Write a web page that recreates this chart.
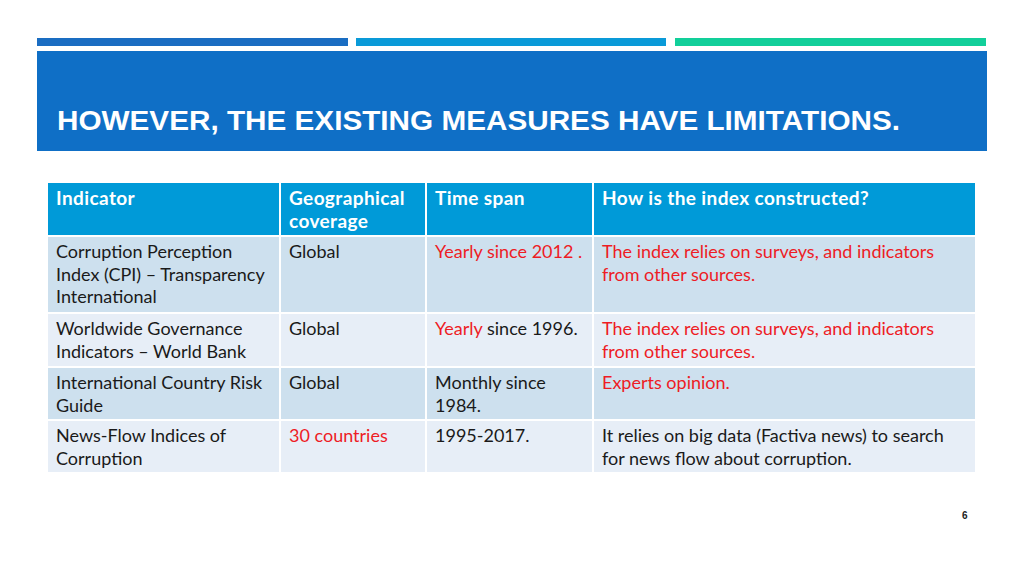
<!DOCTYPE html>
<html>
<head>
<meta charset="utf-8">
<script src="https://cdn.jsdelivr.net/npm/chart.js@4"></script>
<style>
  html, body { margin: 0; padding: 0; background: #fff; }
  body { width: 1024px; height: 576px; position: relative; overflow: hidden; }
  .stripe { position: absolute; top: 38px; height: 8px; }
  .band { position: absolute; left: 37px; top: 51px; width: 950px; height: 100px; background: #0f6fc6; }
  h1.title { position: absolute; left: 57px; top: 106px; margin: 0; color: #fff;
    font: bold 27px "Liberation Sans", Arial, sans-serif; white-space: nowrap; transform-origin: 0 0; }
  table { position: absolute; left: 48px; top: 183px; border-collapse: collapse; table-layout: fixed;
    font-family: Lato, "Open Sans", sans-serif; font-size: 18px; line-height: 22.5px; }
  td, th { border: 2px solid #fff; padding: 3px 8px 2px 8px; vertical-align: top; text-align: left;
    white-space: pre; color: #1a1a1a; overflow: hidden; }
  tr td:first-child, tr th:first-child { border-left: none; }
  tr td:last-child, tr th:last-child { border-right: none; }
  thead tr th { border-top: none; }
  th { background: #009ad8; color: #fff; font-weight: bold; font-size: 19px; letter-spacing: 0.4px; padding-top: 4px; }
  tr.dark td { background: #cde0ee; }
  tr.light td { background: #e7eef7; }
  .red { color: #ee1c25; }
  .page { position: absolute; left: 962px; top: 510px; font: bold 10px "Liberation Sans", Arial, sans-serif; color: #222; }
</style>
</head>
<body>
<div class="stripe" style="left:37px;width:311px;background:#1a6dc2"></div>
<div class="stripe" style="left:356px;width:310px;background:#0a9ad8"></div>
<div class="stripe" style="left:675px;width:311px;background:#12cf9a"></div>
<div class="band"></div>
<h1 class="title" id="title">HOWEVER, THE EXISTING MEASURES HAVE LIMITATIONS.</h1>
<table id="tbl"></table>
<div class="page">6</div>
<script>
var headers = ['Indicator', 'Geographical\ncoverage', 'Time span', 'How is the index constructed?'];
var indicators = [
  'Corruption Perception\nIndex (CPI) \u2013 Transparency\nInternational',
  'Worldwide Governance\nIndicators \u2013 World Bank',
  'International Country Risk\nGuide',
  'News-Flow Indices of\nCorruption'
];
var coverage = ['Global', 'Global', 'Global', '30 countries'];
var timeSpan = ['Yearly since 2012 .', 'Yearly since 1996.', 'Monthly since\n1984.', '1995-2017.'];
var construction = [
  'The index relies on surveys, and indicators\nfrom other sources.',
  'The index relies on surveys, and indicators\nfrom other sources.',
  'Experts opinion.',
  'It relies on big data (Factiva news) to search\nfor news flow about corruption.'
];
// part of each cell (from its start) that is shown in red
var indicatorsRed = ['', '', '', ''];
var coverageRed = ['', '', '', '30 countries'];
var timeSpanRed = ['Yearly since 2012 .', 'Yearly', '', ''];
var constructionRed = [construction[0], construction[1], construction[2], ''];

var colWidths = [232, 146, 167, 382];
var headerHeight = 53;
var rowHeights = [77, 54, 53, 53];

function esc(s) {
  return s.replace(/&/g, '&amp;').replace(/</g, '&lt;').replace(/>/g, '&gt;');
}
function cell(text, red) {
  if (!red) return esc(text);
  return '<span class="red">' + esc(red) + '</span>' + esc(text.slice(red.length));
}

var tbl = document.getElementById('tbl');
var html = '<colgroup>';
colWidths.forEach(function(w) { html += '<col style="width:' + w + 'px">'; });
html += '</colgroup><thead><tr style="height:' + headerHeight + 'px">';
headers.forEach(function(h) { html += '<th>' + esc(h) + '</th>'; });
html += '</tr></thead><tbody>';
indicators.forEach(function(name, i) {
  html += '<tr class="' + (i % 2 === 0 ? 'dark' : 'light') + '" style="height:' + rowHeights[i] + 'px">';
  html += '<td>' + cell(name, indicatorsRed[i]) + '</td>';
  html += '<td>' + cell(coverage[i], coverageRed[i]) + '</td>';
  html += '<td>' + cell(timeSpan[i], timeSpanRed[i]) + '</td>';
  html += '<td>' + cell(construction[i], constructionRed[i]) + '</td>';
  html += '</tr>';
});
html += '</tbody>';
tbl.innerHTML = html;

// stretch the title to the width it has on the slide
var title = document.getElementById('title');
var w = title.getBoundingClientRect().width;
title.style.transform = 'scaleX(' + (843 / w) + ')';
</script>
</body>
</html>
